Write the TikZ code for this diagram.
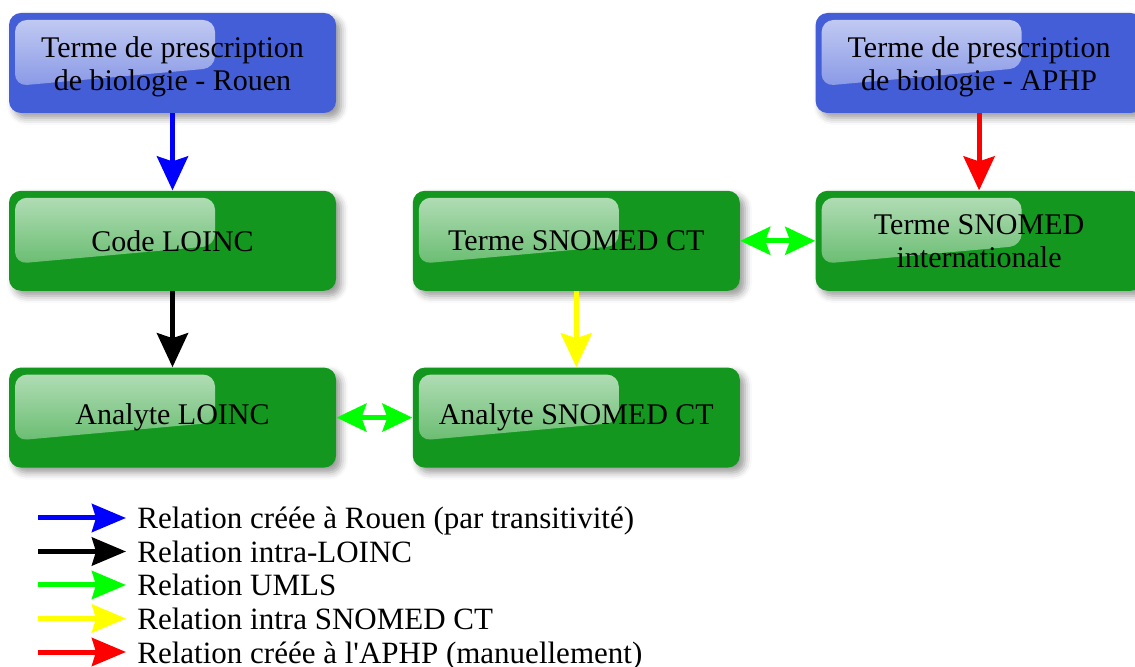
\documentclass[tikz,border=0pt]{standalone}
\usepackage{fontspec}
\setmainfont{Liberation Serif}
\usepackage{tikz}
\usetikzlibrary{positioning}
\usetikzlibrary{calc,arrows.meta}
\usetikzlibrary{fadings}
\usetikzlibrary{shadows.blur}

\definecolor{boxblue}{RGB}{68,94,216}
\definecolor{boxgreen}{RGB}{19,151,31}
\definecolor{relgreen}{RGB}{0,255,0}
\definecolor{relyellow}{RGB}{255,255,0}

\tikzfading[name=glossfade, top color=transparent!30, bottom color=transparent!75]

\tikzset{
    termbox/.style={
        rounded corners=6pt, minimum width=163.5pt, minimum height=50pt,
        align=center, inner sep=2pt, font=\fontsize{15}{16.5}\selectfont,
        blur shadow={shadow xshift=2.5pt, shadow yshift=-2.5pt, shadow blur radius=3.5pt, shadow opacity=40},
        path picture={
            \fill[white, path fading=glossfade, rounded corners=6pt]
                ($(path picture bounding box.north west)+(3pt,-3.5pt)$)
                -- ++(100pt,0pt) -- ++(0pt,-24pt) -- ++(-100pt,-9pt) -- cycle;
        }
    },
    bluebox/.style={termbox, fill=boxblue},
    greenbox/.style={termbox, fill=boxgreen},
    relarrow/.style={line width=2.5pt, -{Stealth[length=17pt, width=15.5pt, inset=2.5pt]}},
    relboth/.style={line width=2.5pt, {Stealth[length=15pt, width=14pt, inset=2.5pt]}-{Stealth[length=15pt, width=14pt, inset=2.5pt]}},
    legtext/.style={anchor=base west, inner sep=0pt, font=\fontsize{15.5}{17}\selectfont}
}
\newcommand{\toppad}{\rule{0pt}{14pt}}

\begin{document}
\begin{tikzpicture}[x=0.5pt, y=-0.5pt]
    \useasboundingbox (0,0) rectangle (1135,667);

    %Boxes
    \node[bluebox] (Rouen) at (172.5,63) {\toppad Terme de prescription\\de biologie - Rouen};

    \node[greenbox, below = 38.5pt of Rouen] (CodeLoinc) {Code LOINC};
    \node[greenbox, below = 38pt of CodeLoinc] (AnalyteLoinc) {Analyte LOINC};

    \node[greenbox, right = 38pt of AnalyteLoinc] (AnalyteSnomed) {Analyte SNOMED CT};
    \node[greenbox, above = 38pt of AnalyteSnomed] (TermeSnomed) {Terme SNOMED CT};

    \node[greenbox, right = 37.5pt of TermeSnomed] (TermeSnomedInt) {Terme SNOMED\\internationale};
    \node[bluebox, above = 38.5pt of TermeSnomedInt] (Aphp) {\toppad Terme de prescription\\de biologie - APHP};

    %Relations
    \draw[relarrow, blue] (Rouen) -- (CodeLoinc);
    \draw[relarrow, black] (CodeLoinc) -- (AnalyteLoinc);
    \draw[relarrow, relyellow] (TermeSnomed) -- (AnalyteSnomed);
    \draw[relarrow, red] (Aphp) -- (TermeSnomedInt);
    \draw[relboth, relgreen] (TermeSnomed) -- (TermeSnomedInt);
    \draw[relboth, relgreen] (AnalyteLoinc) -- (AnalyteSnomed);

    %-------------------------------------------
    %Legend
    \foreach \col/\txt [count=\i] in {
        blue/{Relation créée à Rouen (par transitivité)},
        black/{Relation intra-LOINC},
        relgreen/{Relation UMLS},
        relyellow/{Relation intra SNOMED CT},
        red/{Relation créée à l\textquotesingle APHP (manuellement)}}{
        \pgfmathsetmacro\ly{518+33.5*(\i-1)}
        \coordinate (LegStart\i) at (38,\ly);
        \coordinate (LegEnd\i) at (126,\ly);
        \draw[line width=2.5pt, \col, -{Stealth[length=17pt, width=14pt, inset=2pt]}] (LegStart\i) -- (LegEnd\i);
        \node[legtext] (LegLabel\i) at (137,\ly+11) {\txt};
    }

\end{tikzpicture}
\end{document}
